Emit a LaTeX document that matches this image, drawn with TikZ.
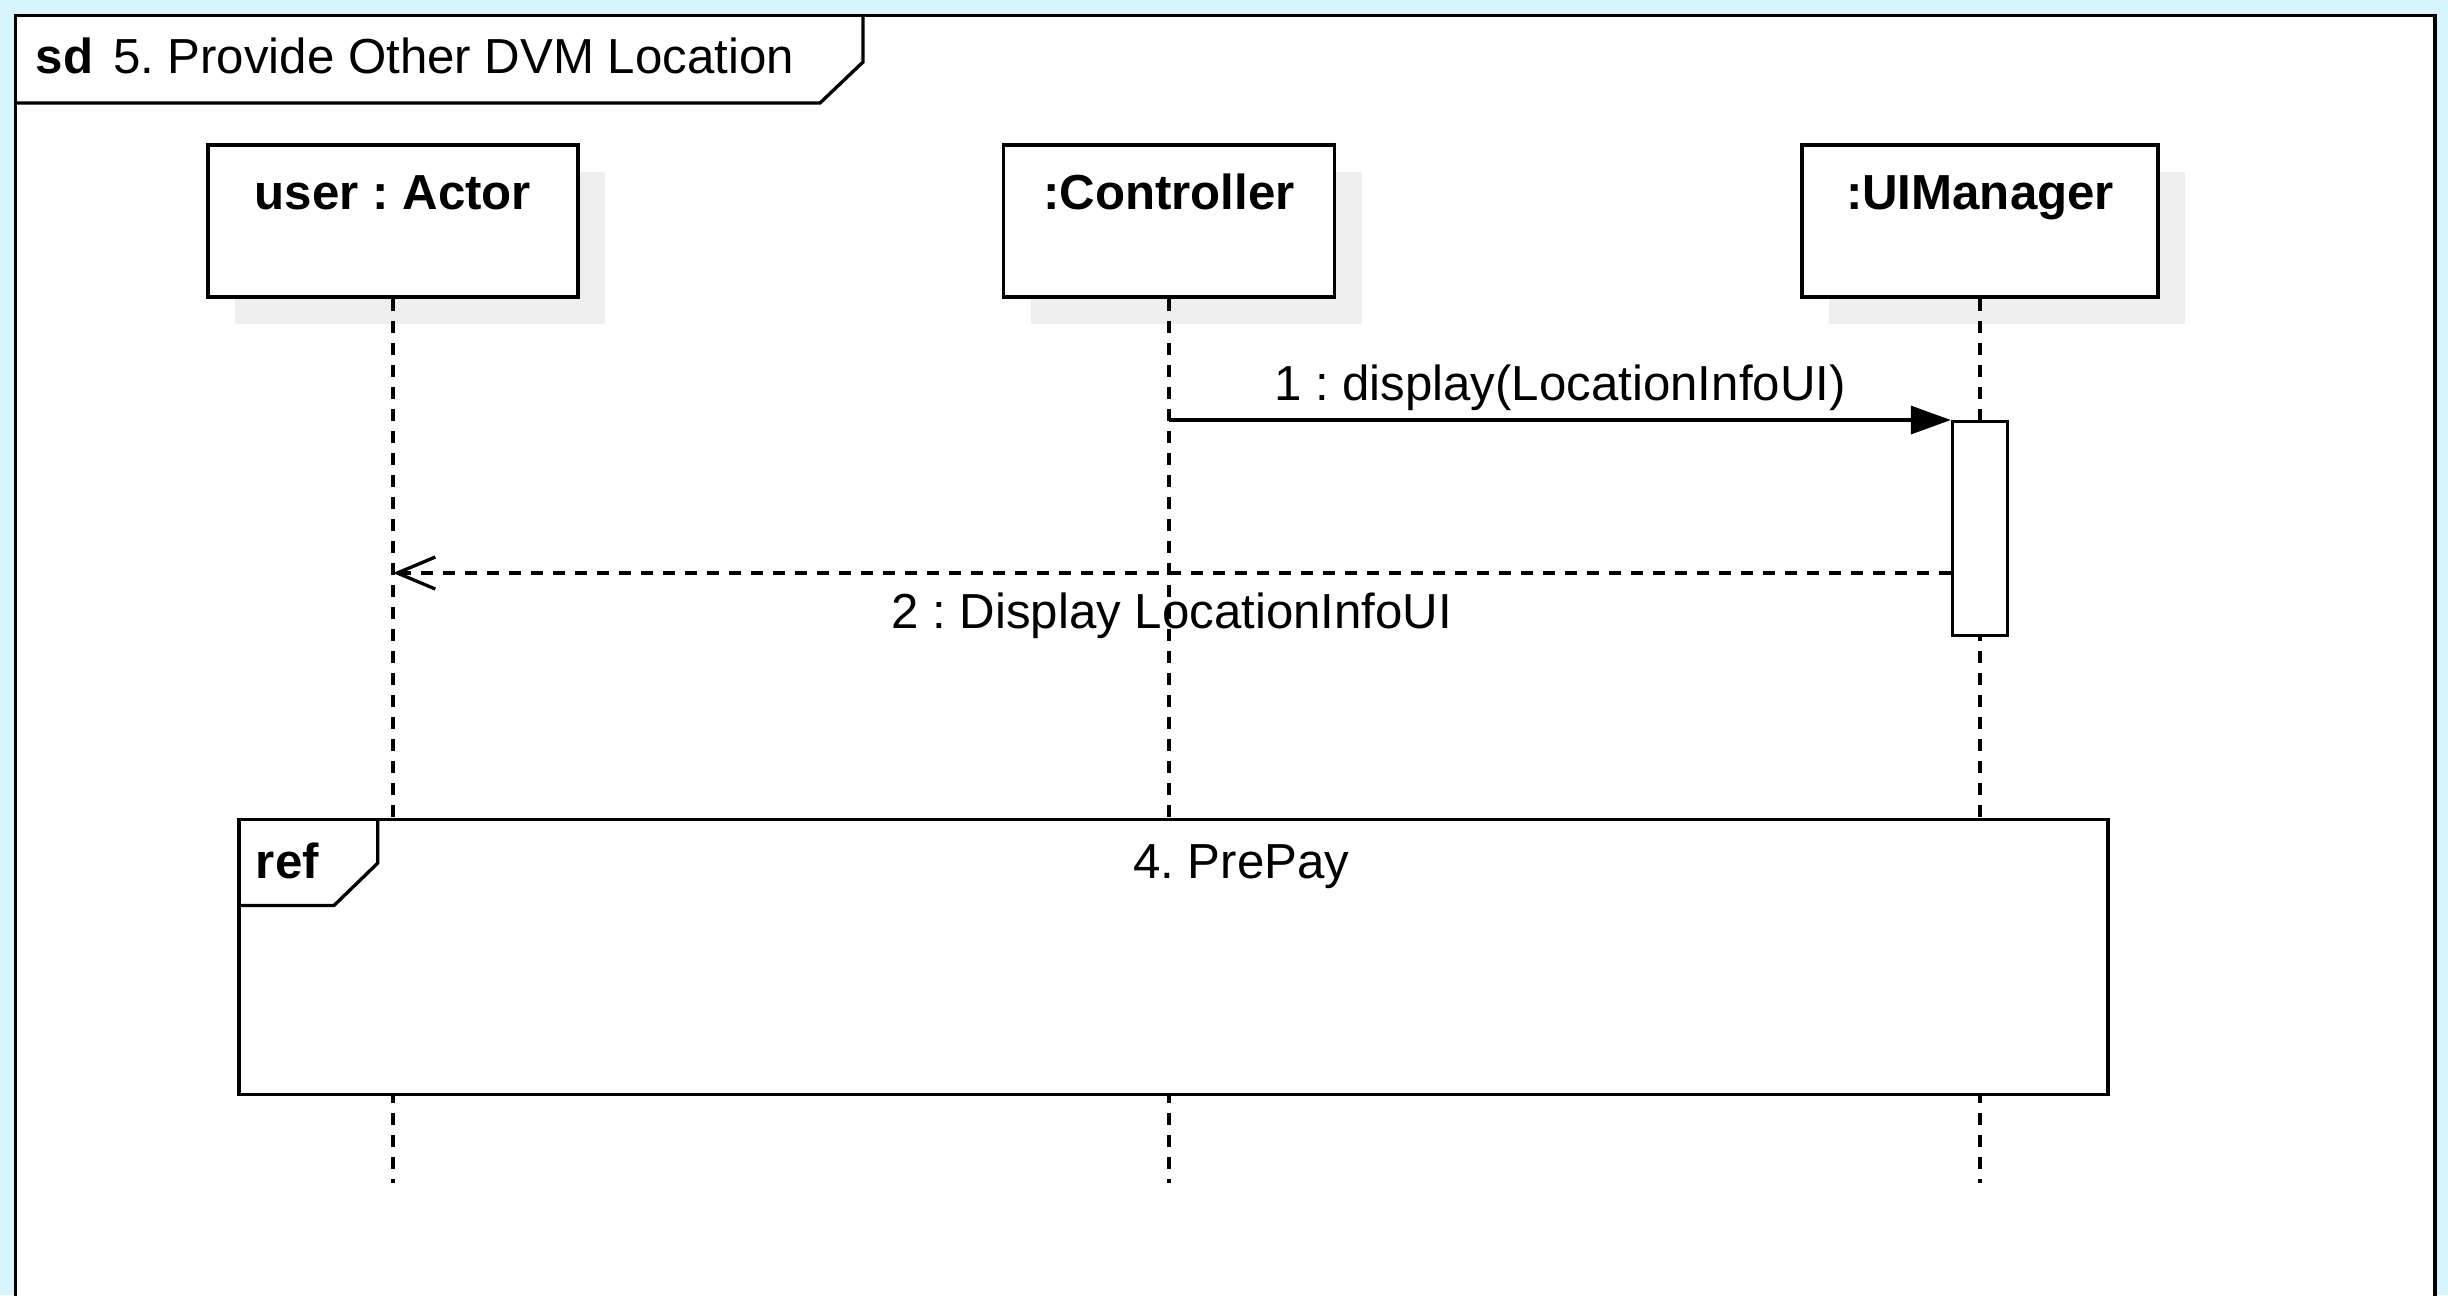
\documentclass[tikz,border=0pt]{standalone}
\usepackage{fontspec}
\setmainfont{Liberation Sans}
\usetikzlibrary{arrows.meta,positioning,shadows}
\definecolor{bgblue}{RGB}{216,244,252}
\definecolor{shadowgray}{RGB}{238,238,238}
\frenchspacing

\begin{document}
\begin{tikzpicture}[
  font=\fontsize{14}{17}\selectfont,
  line width=0.95pt,
  lifebox/.style={draw, fill=white, minimum width=#1, minimum height=1.52cm, inner sep=0pt, drop shadow={shadow xshift=0.27cm, shadow yshift=-0.27cm, fill=shadowgray, opacity=1}},
  lifeline/.style={dash pattern=on 0.12cm off 0.1cm},
  activation/.style={draw, fill=white, minimum width=0.55cm, minimum height=2.14cm, inner sep=0pt},
  call/.style={-{Triangle[length=0.4cm,width=0.28cm]}},
  reply/.style={dash pattern=on 0.12cm off 0.1cm, -{Straight Barb[length=0.38cm,width=0.32cm]}},
  refbox/.style={draw, fill=white, minimum width=18.69cm, minimum height=2.75cm, inner sep=0pt}
]
\clip (0,0) rectangle (24.48,-12.95);
\fill[bgblue] (0,0) rectangle (24.48,-12.95);
\draw[fill=white] (0.156,-0.156) rectangle (24.35,-13.5);

% sd frame tab
\draw (0.156,-1.03) -- (8.20,-1.03) -- (8.63,-0.62) -- (8.63,-0.156);
\node[anchor=base west, inner sep=0pt] (title) at (0.34,-0.73) {\textbf{sd}\hspace{0.2cm}5. Provide Other DVM Location};

% lifelines
\node[lifebox=3.70cm] (user) at (3.93,-2.21) {};
\node[lifebox=3.31cm] (ctrl) at (11.69,-2.21) {};
\node[lifebox=3.56cm] (uim) at (19.80,-2.21) {};
\node[anchor=base] (userlbl) at ([yshift=-0.66cm]user.north) {\textbf{user : Actor}};
\node[anchor=base] (ctrllbl) at ([yshift=-0.66cm]ctrl.north) {\textbf{:Controller}};
\node[anchor=base] (uimlbl) at ([yshift=-0.66cm]uim.north) {\textbf{:UIManager}};

\coordinate (lifeend) at (0,-11.83);
\coordinate (m1) at (0,-4.20);
\coordinate (m2) at (0,-5.73);
\foreach \obj in {user,ctrl,uim}
  \draw[lifeline] (\obj.south) -- (\obj.south |- lifeend);

\node[activation, anchor=north] (act) at (uim.south |- m1) {};

% messages
\draw[call] (ctrl.south |- m1) -- (act.north west)
  node[midway, anchor=base, yshift=2mm] (msg1) {1 : display(LocationInfoUI)};
\draw[reply] (act.west |- m2) -- (user.south |- m2)
  node[midway, anchor=base, yshift=-5.5mm] (msg2) {2 : Display LocationInfoUI};

% interaction use
\node[refbox, anchor=north west] (ref) at (2.373,-8.18) {};
\draw (ref.north west) ++(0,-0.875) -- ++(0.967,0) -- ++(0.438,0.425) -- ++(0,0.45);
\node[anchor=base west, inner sep=0pt] (reflbl) at ([shift={(0.17,-0.60)}]ref.north west) {\textbf{ref}};
\node[anchor=base, inner sep=0pt] (refname) at ([shift={(10.04,-0.60)}]ref.north west) {4. PrePay};
\end{tikzpicture}
\end{document}
